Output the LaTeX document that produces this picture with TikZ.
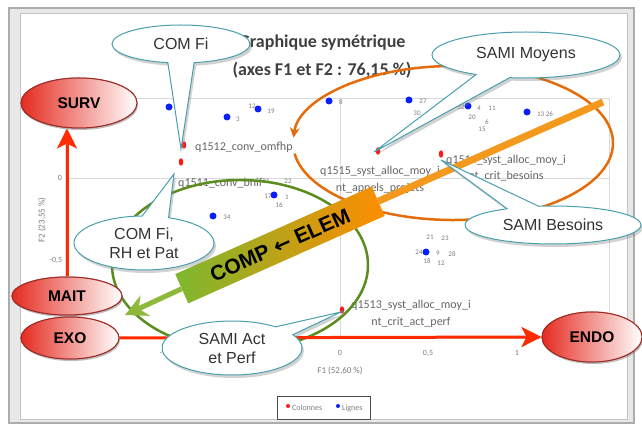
\documentclass[tikz,border=0pt]{standalone}
\usepackage{fontspec}
\setmainfont{Liberation Sans}
\newfontfamily\calibri{Carlito}
\newfontfamily\symbfont{DejaVu Sans}
\usetikzlibrary{arrows.meta,shapes.geometric,shapes.callouts,shadows}

\definecolor{gridgray}{HTML}{D9D9D9}
\definecolor{labgray}{HTML}{666666}
\definecolor{callteal}{HTML}{4A9FAE}
\definecolor{ptred}{HTML}{FF1A1A}
\definecolor{ptblue}{HTML}{0A1EFF}
\definecolor{arrred}{HTML}{FF2A00}
\definecolor{ovalred}{HTML}{E52B20}
\definecolor{ovalborder}{HTML}{9E2A25}
\definecolor{ringorange}{HTML}{E46C0A}
\definecolor{ringgreen}{HTML}{5A8C1E}
\definecolor{barorange}{HTML}{FF8C00}
\definecolor{barline}{HTML}{F39A1E}
\definecolor{bargreen}{HTML}{7CB82F}
\definecolor{shaftgreen}{HTML}{8DB83A}

\tikzset{
  bulle/.style={ellipse callout, draw=callteal, line width=1pt, fill=white,
    inner sep=0pt, text=black!80, font=\fontsize{16}{19}\selectfont, align=center,
    callout pointer arc=22,
    drop shadow={shadow xshift=2pt, shadow yshift=-3pt, opacity=.35}},
  pole/.style={ellipse, draw=ovalborder, line width=1pt, left color=ovalred,
    right color=white, inner sep=0pt, text=black,
    font=\fontsize{15.5}{18}\selectfont\bfseries,
    drop shadow={shadow xshift=1pt, shadow yshift=-2pt, opacity=.3}},
  ligne/.style={circle, fill=ptblue, inner sep=0pt, minimum size=7pt},
  colonne/.style={ellipse, fill=ptred, inner sep=0pt, minimum width=4.5pt, minimum height=7.5pt},
  ptlab/.style={text=labgray, font=\calibri\fontsize{12}{16.5}\selectfont, inner sep=0pt, align=center},
  numlab/.style={text=labgray!85, font=\calibri\fontsize{7}{8}\selectfont, inner sep=0pt},
  axlab/.style={text=labgray!85, font=\calibri\fontsize{8}{9}\selectfont, inner sep=0pt},
  titre/.style={text=black!75, font=\calibri\bfseries\fontsize{18}{20}\selectfont, inner sep=0pt},
  fleche/.style={draw=arrred, line width=3pt, -{Stealth[length=20pt,width=20pt,inset=5pt]}},
}

\begin{document}
\begin{tikzpicture}[x=1pt,y=-1pt]
\useasboundingbox (0,0) rectangle (642,427);
\fill[white] (0,0) rectangle (642,427);

% chart frame
\fill[gray!18] (9,8) rectangle (634,423);
\draw[gray!65, line width=1.2pt] (9,8) rectangle (634,423);
\fill[white] (20,13) rectangle (627,419);
\draw[gray!45, line width=.8pt] (20,13) rectangle (627,419);

% plot area
\draw[gridgray, line width=.8pt] (65,98) rectangle (609,338);
\draw[gridgray, line width=.8pt] (65,178) -- (609,178);
\draw[gridgray, line width=.8pt] (340,98) -- (340,338);

\node[titre] (titre1) at (322,43) {Graphique symétrique};
\node[titre] (titre2) at (322,70) {(axes F1 et F2 : 76,15 \%)};

% axis labels
\node[axlab] (ty0) at (60,178) {0};
\node[axlab] (ty1) at (56,260) {-0,5};
\node[axlab] (tx1) at (163,353) {-1};
\node[axlab] (tx2) at (340,353) {0};
\node[axlab] (tx3) at (428,353) {0,5};
\node[axlab] (tx4) at (517,353) {1};
\node[axlab, font=\calibri\fontsize{9}{10}\selectfont] (f1) at (340,371) {F1 (52,60 \%)};
\node[axlab, font=\calibri\fontsize{9}{10}\selectfont, rotate=90] (f2) at (42,220) {F2 (23,55 \%)};

% legend
\node[draw=gray!60!black, line width=.8pt, minimum width=93pt, minimum height=23pt] (legende) at (323.5,407.5) {};
\node[circle, fill=ptred, inner sep=0pt, minimum size=4pt] (legc) at (288,406) {};
\node[axlab, anchor=west] (legct) at (292,408) {Colonnes};
\node[circle, fill=ptblue, inner sep=0pt, minimum size=4pt] (legl) at (338,406) {};
\node[axlab, anchor=west] (leglt) at (342,408) {Lignes};

% lignes (blue)
\foreach \px/\py [count=\i] in {169/107, 227/117, 258/109, 329/101, 409/100,
    468/106, 527/112, 274/195, 213/216, 426/252}
  \node[ligne] (lig\i) at (\px,\py) {};
\foreach \px/\py/\t [count=\i] in {238/119/3, 252/106/12, 271/111/19, 341/102/8,
    423/101/27, 417/113/30, 461/107/32, 479/108/4, 492/108/11, 472/117/20,
    487/122/6, 482/129/15, 545/114/13 26, 266/181/31, 288/181/22, 268/196/17,
    287/197/1, 279/205/16, 227/217/34, 430/237/21, 445/238/23, 419/252/24,
    438/253/9, 452/254/28, 427/261/18, 441/263/12}
  \node[numlab] (num\i) at (\px,\py) {\t};

% colonnes (red)
\node[colonne] (c1512) at (184,145) {};
\node[colonne] (c1511) at (181,162) {};
\node[colonne] (c1515) at (378,151) {};
\node[colonne] (c1514) at (441,154) {};
\node[colonne] (c1513) at (342,310) {};
\node[ptlab, anchor=west] (l1512) at (195,147) {q1512\_conv\_omfhp};
\node[ptlab, anchor=west] (l1511) at (178,183) {q1511\_conv\_bnif};
\node[ptlab] (l1515) at (380,180) {q1515\_syst\_alloc\_moy\_i\\nt\_appels\_projets};
\node[ptlab] (l1514) at (506,168) {q1514\_syst\_alloc\_moy\_i\\nt\_crit\_besoins};
\node[ptlab] (l1513) at (411,314) {q1513\_syst\_alloc\_moy\_i\\nt\_crit\_act\_perf};

% rings
\draw[ringgreen, line width=2.5pt] (240,265) ellipse [x radius=128, y radius=85];
\draw[ringorange, line width=2.5pt, -{Stealth[length=10pt,width=10pt]}]
  (453,143) ++(172:160 and 77) arc[start angle=172, end angle=-176, x radius=160, y radius=77];

% COMP <- ELEM
\node[rotate=24, minimum width=215pt, minimum height=32pt, inner sep=0pt,
  left color=bargreen, right color=barorange, text=black,
  font=\bfseries\fontsize{21}{24}\selectfont] (comp) at (280,245)
  {COMP {\symbfont\bfseries ←} ELEM};
\coordinate (ortip) at (603,102);
\coordinate (grtip) at (125,315);
\draw[barline, line width=7pt] (comp.east) -- (ortip);
\draw[shaftgreen, line width=5pt, -{Stealth[length=22pt,width=22pt,inset=7pt]}] (comp.west) -- (grtip);

% axes arrows
\node[pole, minimum width=116pt, minimum height=50pt] (surv) at (79,103) {SURV};
\node[pole, minimum width=110pt, minimum height=38pt] (mait) at (67,296) {MAIT};
\node[pole, minimum width=98pt, minimum height=42pt] (exo) at (70,338) {EXO};
\node[pole, minimum width=100pt, minimum height=50pt] (endo) at (592,337) {ENDO};
\draw[fleche] (mait.north) -- (mait.north |- surv.south);
\draw[fleche] (exo.east) -- (endo.west);

% callouts
\node[bulle, minimum width=138pt, minimum height=38pt, callout absolute pointer={(181,149)}] (comfi) at (181,44) {COM Fi};
\node[bulle, minimum width=188pt, minimum height=46pt, callout absolute pointer={(374,152)}] (moyens) at (526,55) {SAMI Moyens};
\node[bulle, minimum width=176pt, minimum height=38pt, callout absolute pointer={(441,160)}] (besoins) at (553,225) {SAMI Besoins};
\node[bulle, minimum width=140pt, minimum height=54pt, callout absolute pointer={(174,174)}] (comrh) at (144,243) {COM Fi,\\RH et Pat};
\node[bulle, minimum width=140pt, minimum height=54pt, callout absolute pointer={(341,312)}] (actperf) at (232,348) {SAMI Act\\et Perf};

% poles on top
\node[pole, minimum width=116pt, minimum height=50pt] at (surv) {SURV};
\node[pole, minimum width=110pt, minimum height=38pt] at (mait) {MAIT};
\node[pole, minimum width=98pt, minimum height=42pt] at (exo) {EXO};
\node[pole, minimum width=100pt, minimum height=50pt] at (endo) {ENDO};
\end{tikzpicture}
\end{document}
